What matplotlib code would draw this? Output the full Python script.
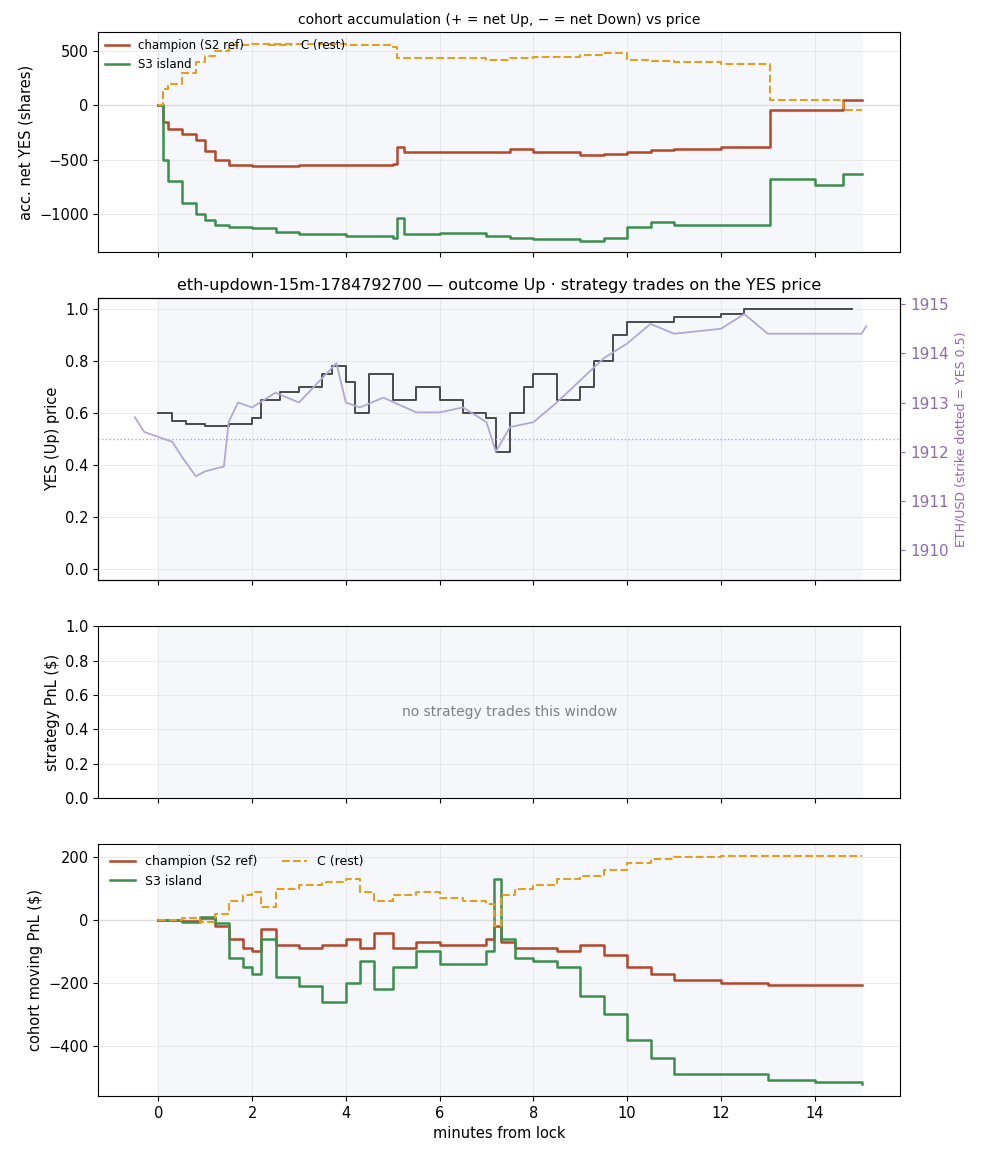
import matplotlib.pyplot as plt
import numpy as np

# ---- panel 1: accumulation (minutes, shares)
acc_t = [0, 0.1, 0.2, 0.5, 0.8, 1.0, 1.2, 1.5, 2.0, 2.5, 3.0, 4.0, 5.0, 5.1, 5.25, 6.0, 7.0, 7.5, 8.0, 9.0, 9.5, 10.0, 10.5, 11.0, 12.0, 12.95, 13.05, 14.0, 14.6, 15.0]
champ_acc = [0, -150, -220, -260, -320, -420, -500, -550, -560, -560, -550, -545, -540, -380, -430, -430, -430, -400, -430, -460, -450, -430, -410, -400, -380, -380, -40, -45, 50, 50]
s3_acc = [0, -500, -700, -900, -1000, -1050, -1100, -1120, -1130, -1160, -1180, -1200, -1220, -1040, -1180, -1170, -1200, -1220, -1230, -1250, -1220, -1120, -1070, -1100, -1100, -1100, -680, -730, -630, -630]
rest_acc = [0, 150, 200, 300, 400, 450, 500, 550, 560, 560, 560, 550, 540, 430, 430, 430, 420, 430, 440, 460, 480, 420, 410, 400, 380, 380, 50, 50, -40, -40]

# ---- panel 2: YES price and ETH/USD
yes_t = [0, 0.3, 0.6, 1.0, 1.5, 2.0, 2.2, 2.6, 3.0, 3.5, 3.7, 4.0, 4.2, 4.5, 5.0, 5.5, 6.0, 6.5, 7.0, 7.2, 7.5, 7.8, 8.0, 8.5, 9.0, 9.3, 9.7, 10.0, 11.0, 12.0, 12.5, 14.8]
yes_p = [0.6, 0.57, 0.56, 0.55, 0.56, 0.58, 0.65, 0.68, 0.7, 0.75, 0.78, 0.72, 0.6, 0.75, 0.65, 0.7, 0.65, 0.6, 0.58, 0.45, 0.6, 0.7, 0.75, 0.65, 0.7, 0.8, 0.9, 0.95, 0.97, 0.98, 1.0, 1.0]
eth_t = [-0.5, -0.3, 0, 0.3, 0.5, 0.8, 1.0, 1.4, 1.5, 1.7, 2.0, 2.5, 3.0, 3.5, 3.8, 4.0, 4.3, 4.8, 5.5, 6.0, 6.5, 7.0, 7.2, 7.5, 8.0, 8.5, 9.5, 10.0, 10.5, 11.0, 12.0, 12.5, 13.0, 14.0, 15.0, 15.1]
eth_p = [1912.7, 1912.4, 1912.3, 1912.2, 1911.9, 1911.5, 1911.6, 1911.7, 1912.6, 1913.0, 1912.9, 1913.2, 1913.0, 1913.5, 1913.8, 1913.0, 1912.9, 1913.1, 1912.8, 1912.8, 1912.9, 1912.6, 1912.0, 1912.5, 1912.6, 1913.0, 1913.9, 1914.2, 1914.6, 1914.4, 1914.5, 1914.8, 1914.4, 1914.4, 1914.4, 1914.55]

# ---- panel 4: cohort moving PnL
pnl_t = [0, 0.5, 0.9, 1.2, 1.5, 1.8, 2.0, 2.2, 2.5, 3.0, 3.5, 4.0, 4.3, 4.6, 5.0, 5.5, 6.0, 6.5, 7.0, 7.15, 7.3, 7.6, 8.0, 8.5, 9.0, 9.5, 10.0, 10.5, 11.0, 12.0, 13.0, 14.0, 15.0]
champ_pnl = [0, -2, 5, -20, -60, -90, -100, -30, -80, -90, -80, -60, -90, -40, -90, -70, -80, -80, -60, -20, -70, -90, -90, -100, -80, -110, -150, -170, -190, -200, -205, -205, -205]
s3_pnl = [0, -5, 10, -10, -120, -150, -170, -60, -180, -210, -260, -200, -130, -220, -150, -100, -140, -140, -100, 130, -60, -120, -130, -150, -240, -300, -380, -440, -490, -490, -510, -515, -520]
rest_pnl = [0, 5, -5, 20, 60, 80, 90, 40, 100, 110, 120, 130, 90, 60, 80, 90, 70, 60, 50, -20, 80, 100, 110, 130, 140, 160, 180, 195, 200, 205, 205, 205, 205]

C_CH, C_S3, C_REST = '#b5472a', '#3a8f4e', '#e0a020'
SHADE = '#f5f7fb'
plt.rcParams['xtick.labelsize'] = 10.5
plt.rcParams['ytick.labelsize'] = 10.5
plt.rcParams['axes.labelsize'] = 10.5

fig, axes = plt.subplots(4, 1, figsize=(9.83, 11.56), sharex=True,
                         gridspec_kw=dict(height_ratios=[220, 282, 172, 252], hspace=0.2))
fig.subplots_adjust(left=0.1, right=0.916, top=0.972, bottom=0.052)
for ax in axes:
    ax.axvspan(0, 15, color=SHADE, zorder=0)
    ax.grid(True, color='#e6e6e6', linewidth=0.6)
    ax.set_axisbelow(True)

ax = axes[0]
ax.axhline(0, color='#dddddd', lw=1)
ax.step(acc_t, champ_acc, where='post', color=C_CH, lw=1.8, label='champion (S2 ref)')
ax.step(acc_t, s3_acc, where='post', color=C_S3, lw=1.8, label='S3 island')
ax.step(acc_t, rest_acc, where='post', color=C_REST, lw=1.5, ls='--', label='C (rest)')
ax.set_ylim(-1349, 670)
ax.set_ylabel('acc. net YES (shares)')
ax.set_title('cohort accumulation (+ = net Up, − = net Down) vs price', fontsize=10)
ax.legend(loc='upper left', ncol=2, fontsize=8.5, frameon=False, borderaxespad=0.2)

ax = axes[1]
ax.step(yes_t, yes_p, where='post', color='#4a4a4a', lw=1.4)
ax.axhline(0.5, color='#b4a7d6', lw=1, ls=':')
ax.set_ylim(-0.042, 1.042)
ax.set_ylabel('YES (Up) price')
ax.set_title('eth-updown-15m-1784792700 — outcome Up · strategy trades on the YES price', fontsize=11.5)
ax2 = ax.twinx()
ax2.plot(eth_t, eth_p, color='#b4a7d6', lw=1.3)
ax2.set_ylim(1909.39, 1915.12)
ax2.set_ylabel('ETH/USD (strike dotted = YES 0.5)', color='#8e6bab', fontsize=9)
ax2.tick_params(axis='y', colors='#8e6bab', labelsize=11)

ax = axes[2]
ax.set_ylim(0, 1)
ax.set_ylabel('strategy PnL ($)')
ax.text(7.5, 0.5, 'no strategy trades this window', ha='center', va='center', color='gray', fontsize=10)

ax = axes[3]
ax.axhline(0, color='#dddddd', lw=1)
ax.step(pnl_t, champ_pnl, where='post', color=C_CH, lw=1.8, label='champion (S2 ref)')
ax.step(pnl_t, s3_pnl, where='post', color=C_S3, lw=1.8, label='S3 island')
ax.step(pnl_t, rest_pnl, where='post', color=C_REST, lw=1.5, ls='--', label='C (rest)')
ax.set_ylim(-559, 241)
ax.set_yticks([-400, -200, 0, 200])
ax.set_ylabel('cohort moving PnL ($)')
ax.set_xlabel('minutes from lock')
ax.legend(loc='upper left', ncol=2, fontsize=9, frameon=False)
ax.set_xlim(-1.28, 15.83)
ax.set_xticks(range(0, 16, 2))

fig.savefig('out.png', dpi=100)
